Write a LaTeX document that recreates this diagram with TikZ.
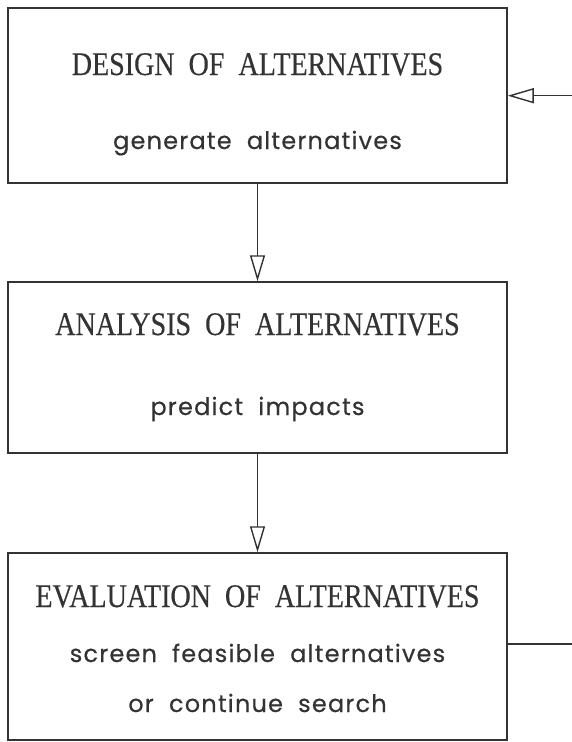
\documentclass[tikz,border=0pt]{standalone}
\usepackage{fontspec}
\newfontfamily\titlefont[FakeStretch=0.85, FakeBold=0.4]{Liberation Serif}
\newfontfamily\subfont[LetterSpace=5, FakeBold=0.4]{Poppins}
\usetikzlibrary{arrows.meta,calc}
\definecolor{ink}{HTML}{333333}
\tikzset{
  box/.style={draw=ink, line width=1.5pt, minimum width=499pt, inner sep=0pt},
  ttl/.style={font=\titlefont\fontsize{33}{33}\selectfont, text=ink, anchor=base, inner sep=0pt},
  sub/.style={font=\subfont\fontsize{24}{24}\selectfont, text=ink, anchor=base, inner sep=0pt},
  conn/.style={draw=ink, line width=1.4pt, -{Triangle[open, length=26pt, width=15pt, line width=1.4pt]}},
}
\begin{document}
\begin{tikzpicture}[x=1pt,y=1pt]
\useasboundingbox (0,0) rectangle (572,-742);
\clip (0,0) rectangle (572,-742);
\fill[white] (0,0) rectangle (572,-742);
\node[box, minimum height=175pt] (design) at (257.5,-95.5) {};
\node[box, minimum height=171pt] (analysis) at (257.5,-367.5) {};
\node[box, minimum height=187pt] (evaluation) at (257.5,-646.5) {};
\node[ttl] (t1) at (257.5,-75) {DESIGN\ \ OF\ \ ALTERNATIVES};
\node[sub] (s1) at (257.5,-149) {generate\ \ alternatives};
\node[ttl] (t2) at (257.5,-335) {ANALYSIS\ \ OF\ \ ALTERNATIVES};
\node[sub] (s2) at (257.5,-415) {predict\ \ impacts};
\node[ttl] (t3) at (257.5,-607) {EVALUATION\ \ OF\ \ ALTERNATIVES};
\node[sub] (s3) at (257.5,-662) {screen\ \ feasible\ \ alternatives};
\node[sub] (s4) at (257.5,-712) {or\ \ continue\ \ search};
\draw[conn] (design) -- (analysis);
\draw[conn] (analysis) -- (evaluation);
\coordinate (c1) at (590,-644);
\coordinate (c2) at (590,-95.7);
\draw[conn] (evaluation.east |- c1) -- (c1) -- (c2) -- (design.east |- c2);
\end{tikzpicture}
\end{document}
